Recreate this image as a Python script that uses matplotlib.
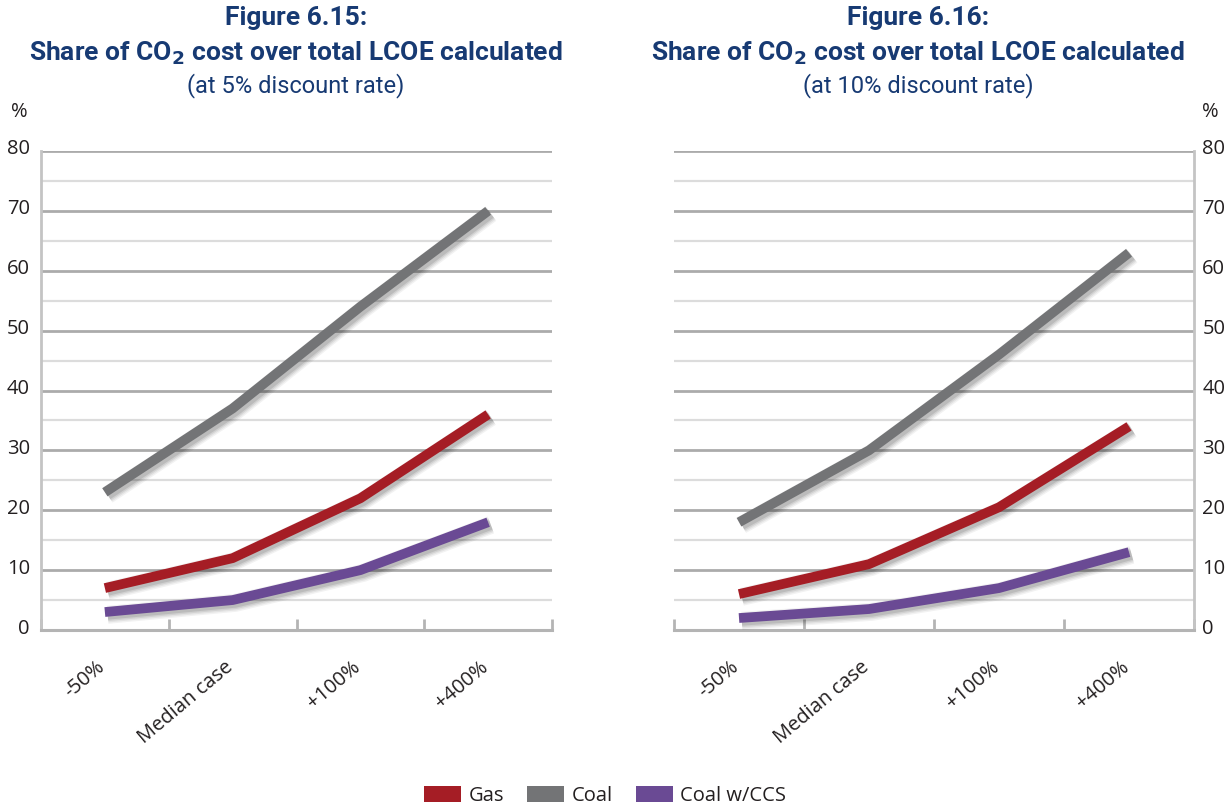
import matplotlib
matplotlib.use("Agg")
import matplotlib.pyplot as plt
import matplotlib.patheffects as pe
from matplotlib.patches import Patch
from matplotlib.transforms import ScaledTranslation
import numpy as np

# ---- data ----
categories = ["-50%", "Median case", "+100%", "+400%"]
series_names = ["Gas", "Coal", "Coal w/CCS"]

gas_5 = [7, 12, 22, 36]
coal_5 = [23, 37, 54, 70]
ccs_5 = [3, 5, 10, 18]

gas_10 = [6, 11, 20.5, 34]
coal_10 = [18, 30, 46, 63]
ccs_10 = [2, 3.5, 7, 13]

y_ticks = [0, 10, 20, 30, 40, 50, 60, 70, 80]

colors = {"Gas": "#a51d25", "Coal": "#737476", "Coal w/CCS": "#6a4a94"}
title_color = "#173a73"

W, H = 1228, 807
fig = plt.figure(figsize=(W / 100, H / 100), dpi=100)
fig.patch.set_facecolor("white")

tick_font = ["Open Sans", "DejaVu Sans"]
title_font = ["Roboto", "DejaVu Sans"]
TICK_SIZE = 14.5


def px_box(x0, x1, y_top, y_bot):
    return [x0 / W, 1 - y_bot / H, (x1 - x0) / W, (y_bot - y_top) / H]


def soft_shadow():
    # a few widening, faint strokes give a blurred drop shadow
    layers = []
    for extra, a in ((6, 0.05), (4, 0.06), (2, 0.08), (0, 0.10)):
        layers.append(pe.SimpleLineShadow(offset=(2.0, -2.0), alpha=a,
                                          shadow_color="black",
                                          linewidth=7 + extra))
    layers.append(pe.Normal())
    return layers


def draw_panel(ax, gas, coal, ccs, side):
    n = len(categories)
    x = np.arange(n)
    ax.set_xlim(-0.5, n - 0.5)
    ax.set_ylim(0, 80)

    # horizontal grid: darker every 10, lighter every 5
    for v in range(5, 81, 5):
        major = v % 10 == 0
        ax.axhline(v, color="#ababab" if major else "#dcdcdc",
                   lw=2.0 if major else 1.6, zorder=1)

    for s in ax.spines.values():
        s.set_visible(False)
    ax.spines["bottom"].set_visible(True)
    ax.spines["bottom"].set_color("#b4b4b4")
    ax.spines["bottom"].set_linewidth(2.2)
    ax.spines[side].set_visible(True)
    ax.spines[side].set_color("#c4c4c4")
    ax.spines[side].set_linewidth(2.0)

    for name, vals in (("Coal", coal), ("Gas", gas), ("Coal w/CCS", ccs)):
        ax.plot(x, vals, color=colors[name], lw=7, solid_capstyle="butt",
                solid_joinstyle="round", zorder=3, path_effects=soft_shadow())

    # category boundaries carry the tick marks, centres carry the labels
    ax.set_xticks(np.arange(-0.5, n, 1.0), minor=True)
    ax.tick_params(axis="x", which="minor", direction="in", length=8,
                   width=2, color="#b4b4b4")
    ax.set_xticks(x)
    ax.set_xticklabels([])
    ax.tick_params(axis="x", which="major", length=0)
    off = ScaledTranslation(4 / 100, -27 / 100, fig.dpi_scale_trans)
    for xi, lab in zip(x, categories):
        ax.text(xi, 0, lab, transform=ax.get_xaxis_transform() + off,
                rotation=40, ha="right", va="top", fontsize=TICK_SIZE,
                family=tick_font, color="#231f20")

    ax.set_yticks(y_ticks)
    ax.tick_params(axis="y", length=0, labelsize=TICK_SIZE,
                   labelcolor="#231f20", pad=8)
    if side == "right":
        ax.yaxis.tick_right()
        ax.tick_params(axis="y", which="both", left=False, right=False, pad=6)
    up = ScaledTranslation(0, 4 / 100, fig.dpi_scale_trans)
    for lab in ax.get_yticklabels():
        lab.set_family(tick_font)
        lab.set_transform(lab.get_transform() + up)


ax1 = fig.add_axes(px_box(41, 552, 151, 630))
ax2 = fig.add_axes(px_box(674, 1194, 151, 630))
draw_panel(ax1, gas_5, coal_5, ccs_5, "left")
draw_panel(ax2, gas_10, coal_10, ccs_10, "right")

# unit labels
fig.text(11 / W, 1 - 112 / H, "%", fontsize=TICK_SIZE, family=tick_font,
         color="#231f20", ha="left", va="center")
fig.text(1219 / W, 1 - 112 / H, "%", fontsize=TICK_SIZE, family=tick_font,
         color="#231f20", ha="right", va="center")

# panel titles
for cx, num, rate in ((296, "6.15", "5%"), (918, "6.16", "10%")):
    fig.text(cx / W, 1 - 18 / H, f"Figure {num}:", fontsize=19, weight="bold",
             family=title_font, color=title_color, ha="center", va="center")
    fig.text(cx / W, 1 - 53 / H, r"Share of CO$_\mathbf{2}$ cost over total LCOE calculated",
             fontsize=19, weight="bold", family=title_font, color=title_color,
             ha="center", va="center")
    fig.text(cx / W, 1 - 86 / H, f"(at {rate} discount rate)", fontsize=17,
             family=title_font, color=title_color, ha="center", va="center")

handles = [Patch(facecolor=colors[n], edgecolor="none") for n in series_names]
fig.legend(handles, series_names, loc="center", bbox_to_anchor=(605 / W, 1 - 796 / H),
           ncol=3, frameon=False, prop={"family": tick_font, "size": 14.5},
           handlelength=1.85, handleheight=0.8, handletextpad=0.35,
           columnspacing=1.15, labelcolor="#231f20")

fig.savefig("out.png", dpi=100, facecolor="white")
